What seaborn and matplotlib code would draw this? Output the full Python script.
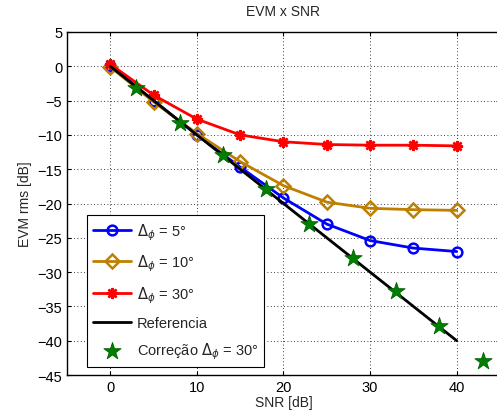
import numpy as np
import pandas as pd
import matplotlib
matplotlib.use("Agg")
import matplotlib.pyplot as plt
import seaborn as sns

# data
snr = [0, 5, 10, 15, 20, 25, 30, 35, 40]
evm_5 = [0.1, -5.0, -10.0, -14.7, -19.2, -23.0, -25.4, -26.5, -27.0]
evm_10 = [-0.1, -5.2, -9.8, -13.9, -17.4, -19.8, -20.7, -20.9, -21.0]
evm_30 = [0.3, -4.2, -7.7, -10.0, -11.0, -11.4, -11.5, -11.5, -11.6]
ref_snr = [0, 40]
ref_evm = [0, -40]
corr_snr = [3, 8, 13, 18, 23, 28, 33, 38, 43]
corr_evm = [-3.2, -8.3, -13.0, -17.9, -23.0, -27.9, -32.8, -37.9, -43.0]

sns.set_style("ticks")
plt.rcParams['font.family'] = ['Liberation Sans', 'DejaVu Sans']
plt.rcParams['mathtext.fontset'] = 'dejavusans'

W, H = 497, 414
fig = plt.figure(figsize=(W / 100, H / 100), dpi=100)
ax = fig.add_axes([67 / W, (H - 376) / H, (500 - 67) / W, (376 - 33) / H])

series = [
    (evm_5, r'$\Delta_{\phi}$ = 5°', '#0000ff', 'o', 7),
    (evm_10, r'$\Delta_{\phi}$ = 10°', '#bf8000', 'D', 7),
    (evm_30, r'$\Delta_{\phi}$ = 30°', '#ff0000', (8, 2, 0), 8),
]
for vals, lab, col, mk, ms in series:
    df = pd.DataFrame({"snr": snr, "evm": vals})
    sns.lineplot(data=df, x="snr", y="evm", ax=ax, color=col, lw=2,
                 marker=mk, markersize=ms, markerfacecolor='none' if mk != (8, 2, 0) else col,
                 markeredgecolor=col, markeredgewidth=1.8, label=lab)

sns.lineplot(x=ref_snr, y=ref_evm, ax=ax, color='black', lw=2, label='Referencia')
sns.scatterplot(x=corr_snr, y=corr_evm, ax=ax, color='#008000', marker='*', s=170,
                edgecolor='#006000', linewidth=0.6, label='Correção ' + r'$\Delta_{\phi}$ = 30°',
                zorder=5, clip_on=False)

ax.set_xlim(-5, 45)
ax.set_ylim(-45, 5)
ax.set_xticks([0, 10, 20, 30, 40])
ax.set_yticks(np.arange(-45, 6, 5))
ax.grid(True, linestyle=(0, (1, 3)), color='black', lw=0.6)
ax.tick_params(direction='in', length=3, labelsize=10.5, colors='black',
               top=True, right=True)
for s in ax.spines.values():
    s.set_color('black')
    s.set_linewidth(1)

ax.set_title('EVM x SNR', fontsize=10, pad=12)
ax.set_xlabel('SNR [dB]', fontsize=10, labelpad=1)
ax.set_ylabel('EVM rms [dB]', fontsize=10)

leg = ax.legend(loc='lower left', bbox_to_anchor=(0.046, 0.023), borderaxespad=0,
                fontsize=10.5, frameon=True, fancybox=False, edgecolor='black',
                framealpha=1, handlelength=2.6, borderpad=0.4, labelspacing=0.75,
                handletextpad=0.4)
leg.get_frame().set_linewidth(0.8)

fig.savefig("out.png", dpi=100)
